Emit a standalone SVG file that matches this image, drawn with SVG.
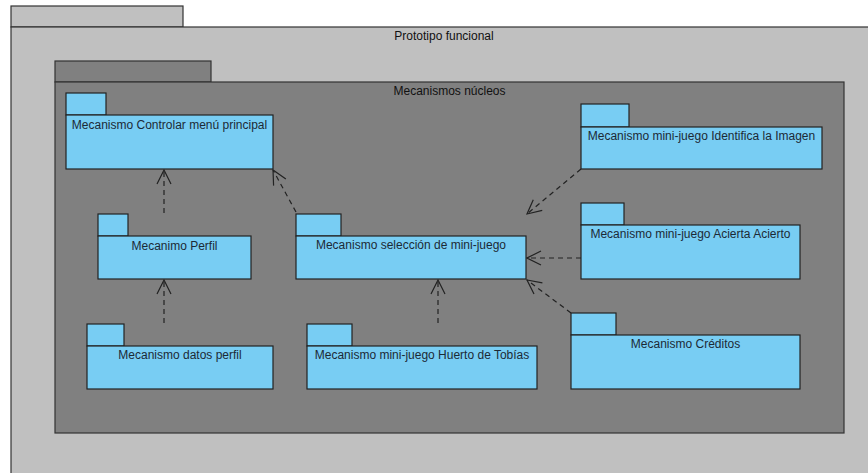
<svg xmlns="http://www.w3.org/2000/svg" width="868" height="473" viewBox="0 0 868 473">
  <defs>
    <marker id="open" viewBox="0 0 16 16" refX="15" refY="8" markerWidth="16" markerHeight="16" markerUnits="userSpaceOnUse" orient="auto">
      <path d="M1,1 L15,8 L1,15" fill="none" stroke="#222" stroke-width="1.2"/>
    </marker>
  </defs>
  <style>
    .outer { fill: #c0c0c0; stroke: #333; stroke-width: 1.2; }
    .inner { fill: #808080; stroke: #333; stroke-width: 1.2; }
    .pkg { fill: #78cdf3; stroke: #222; stroke-width: 1.2; }
    .title { font-family: "Liberation Sans", Arial, sans-serif; font-size: 12px; fill: #111; text-anchor: middle; }
    .lbl { font-family: "Liberation Sans", Arial, sans-serif; font-size: 12px; fill: #1c2a36; text-anchor: middle; }
    .dep { fill: none; stroke: #222; stroke-width: 1.2; stroke-dasharray: 5 4; marker-end: url(#open); }
  </style>

  <rect width="868" height="473" fill="#ffffff"/>

  <!-- Prototipo funcional -->
  <g id="prototipo">
    <rect class="outer" x="11" y="6" width="172" height="21"/>
    <rect class="outer" x="11" y="27" width="866" height="460"/>
    <text class="title" x="444" y="40">Prototipo funcional</text>
  </g>

  <!-- Mecanismos núcleos -->
  <g id="nucleos">
    <rect class="inner" x="55" y="61" width="156" height="21"/>
    <rect class="inner" x="55" y="82" width="789" height="351"/>
    <text class="title" x="449.5" y="95">Mecanismos núcleos</text>
  </g>

  <g id="controlar">
    <rect class="pkg" x="66" y="93" width="40" height="22"/>
    <rect class="pkg" x="66" y="115" width="207" height="54"/>
    <text class="lbl" x="169.5" y="129">Mecanismo Controlar menú principal</text>
  </g>

  <g id="perfil">
    <rect class="pkg" x="98" y="214" width="30" height="22"/>
    <rect class="pkg" x="98" y="236" width="153" height="43"/>
    <text class="lbl" x="174.5" y="250">Mecanimo Perfil</text>
  </g>

  <g id="seleccion">
    <rect class="pkg" x="296" y="214" width="45" height="22"/>
    <rect class="pkg" x="296" y="236" width="230" height="43"/>
    <text class="lbl" x="411" y="249">Mecanismo selección de mini-juego</text>
  </g>

  <g id="identifica">
    <rect class="pkg" x="581" y="104" width="48" height="23"/>
    <rect class="pkg" x="581" y="127" width="241" height="42"/>
    <text class="lbl" x="701.5" y="140">Mecanismo mini-juego Identifica la Imagen</text>
  </g>

  <g id="acierta">
    <rect class="pkg" x="581" y="203" width="43" height="22"/>
    <rect class="pkg" x="581" y="225" width="219" height="54"/>
    <text class="lbl" x="690.5" y="238">Mecanismo mini-juego Acierta Acierto</text>
  </g>

  <g id="creditos">
    <rect class="pkg" x="571" y="313" width="45" height="22"/>
    <rect class="pkg" x="571" y="335" width="229" height="54"/>
    <text class="lbl" x="685.5" y="348">Mecanismo Créditos</text>
  </g>

  <g id="datos">
    <rect class="pkg" x="87" y="324" width="37" height="22"/>
    <rect class="pkg" x="87" y="346" width="186" height="43"/>
    <text class="lbl" x="180" y="359">Mecanismo datos perfil</text>
  </g>

  <g id="huerto">
    <rect class="pkg" x="307" y="324" width="45" height="22"/>
    <rect class="pkg" x="307" y="346" width="230" height="43"/>
    <text class="lbl" x="422" y="359">Mecanismo mini-juego Huerto de Tobías</text>
  </g>

  <!-- dependencies -->
  <g id="connectors">
    <line class="dep" x1="164" y1="213" x2="164" y2="170"/>
    <line class="dep" x1="296" y1="212" x2="273" y2="170"/>
    <line class="dep" x1="581" y1="169" x2="527" y2="214"/>
    <line class="dep" x1="581" y1="258" x2="527" y2="258"/>
    <line class="dep" x1="571" y1="313" x2="527" y2="280"/>
    <line class="dep" x1="164" y1="323" x2="164" y2="280"/>
    <line class="dep" x1="438" y1="323" x2="438" y2="280"/>
  </g>
</svg>
